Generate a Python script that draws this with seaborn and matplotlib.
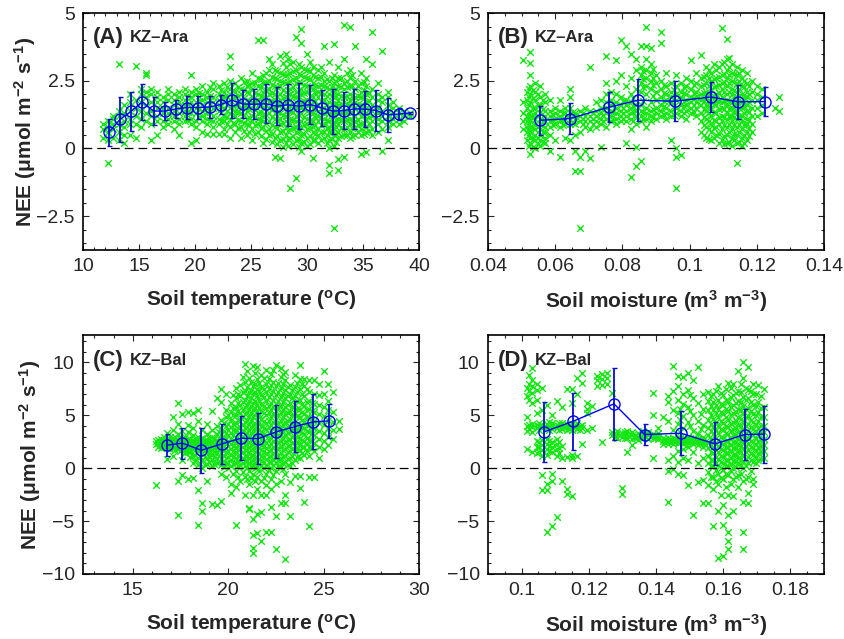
import numpy as np
import pandas as pd
import matplotlib
matplotlib.use('Agg')
import matplotlib.pyplot as plt
from matplotlib.ticker import MultipleLocator, FuncFormatter
import seaborn as sns

# ---- binned means (blue line) ----
a_bin_x = [12.3, 13.3, 14.3, 15.3, 16.3, 17.3, 18.3, 19.3, 20.3, 21.3, 22.3, 23.3, 24.3, 25.3,
           26.3, 27.3, 28.3, 29.3, 30.3, 31.3, 32.3, 33.3, 34.2, 35.2, 36.2, 37.2, 38.2, 39.2]
a_bin_y = [0.59, 1.07, 1.37, 1.72, 1.38, 1.38, 1.46, 1.51, 1.51, 1.53, 1.62, 1.78, 1.64, 1.63,
           1.65, 1.56, 1.61, 1.56, 1.62, 1.50, 1.38, 1.40, 1.46, 1.45, 1.40, 1.24, 1.27, 1.31]
a_bin_sd = [0.51, 0.82, 0.71, 0.67, 0.51, 0.33, 0.32, 0.43, 0.44, 0.40, 0.36, 0.64, 0.51, 0.56,
            0.72, 0.71, 0.78, 0.84, 0.71, 0.67, 0.83, 0.68, 0.75, 0.66, 0.75, 0.63, 0.23, 0.04]

b_bin_x = [0.0556, 0.0643, 0.0759, 0.0846, 0.0957, 0.1063, 0.1145, 0.1223]
b_bin_y = [1.04, 1.10, 1.52, 1.78, 1.74, 1.90, 1.72, 1.73]
b_bin_sd = [0.53, 0.58, 0.55, 0.78, 0.74, 0.55, 0.62, 0.53]

c_bin_x = [16.78, 17.60, 18.60, 19.67, 20.67, 21.59, 22.52, 23.50, 24.45, 25.31]
c_bin_y = [2.18, 2.37, 1.70, 2.30, 2.84, 2.81, 3.44, 3.94, 4.38, 4.48]
c_bin_sd = [1.06, 1.47, 2.13, 1.90, 2.10, 2.40, 2.50, 2.40, 2.60, 1.60]

d_bin_x = [0.1067, 0.1154, 0.1275, 0.1366, 0.1475, 0.1576, 0.1664, 0.1722]
d_bin_y = [3.44, 4.45, 6.09, 3.19, 3.31, 2.30, 3.19, 3.22]
d_bin_sd = [2.81, 2.71, 3.39, 1.03, 2.08, 2.03, 2.38, 2.68]

# ---- half-hourly NEE clouds (green x), read column by column: x -> list of y ----
a_cloud = {
    11.8: [0.4, 0.7, 0.9],
    12.2: [-0.55, 0.3, 0.6, 0.8, 1.0],
    12.7: [0.4, 0.7, 0.9, 1.1, 1.2],
    13.2: [0.3, 0.6, 0.9, 1.2, 1.4, 3.1],
    13.7: [0.2, 0.5, 0.8, 1.0, 1.3, 1.6],
    14.2: [0.5, 0.9, 1.1, 1.4, 1.7, 2.0],
    14.7: [0.4, 0.9, 1.2, 1.5, 1.8, 3.05],
    15.2: [0.8, 1.1, 1.4, 1.7, 2.0, 2.2],
    15.6: [1.0, 1.3, 1.6, 1.9, 2.1, 2.7, 2.8],
    16.1: [0.3, 0.9, 1.2, 1.4, 1.7, 2.0, 2.2],
    16.6: [0.5, 1.0, 1.2, 1.5, 1.7, 1.9, 2.1],
    17.1: [0.8, 1.0, 1.3, 1.5, 1.7, 1.9],
    17.6: [0.9, 1.1, 1.3, 1.5, 1.8, 2.0, 2.2],
    18.1: [0.7, 1.0, 1.2, 1.4, 1.6, 1.8, 2.0],
    18.6: [0.5, 0.9, 1.1, 1.3, 1.5, 1.7, 1.9, 2.1],
    19.1: [1.0, 1.2, 1.4, 1.6, 1.8, 2.0, 2.2],
    19.35: [1.05, 1.35, 1.65, 1.95],
    19.6: [0.2, 0.9, 1.1, 1.3, 1.5, 1.7, 1.9, 2.1, 2.7],
    20.1: [0.3, 0.8, 1.0, 1.3, 1.5, 1.7, 2.0, 2.2],
    20.35: [1.15, 1.45, 1.75, 2.05],
    20.6: [0.6, 1.0, 1.2, 1.4, 1.6, 1.8, 2.0, 2.3],
    21.1: [0.55, 0.9, 1.1, 1.3, 1.5, 1.7, 1.9, 2.1],
    21.35: [1.05, 1.35, 1.65, 1.95, 2.25],
    21.6: [0.55, 0.8, 1.0, 1.2, 1.5, 1.7, 1.9, 2.2, 2.4],
    22.1: [0.55, 0.9, 1.1, 1.4, 1.6, 1.8, 2.0, 2.3],
    22.35: [1.0, 1.3, 1.55, 1.85, 2.15],
    22.6: [0.55, 0.7, 1.0, 1.2, 1.5, 1.7, 1.9, 2.1, 2.4],
    22.85: [0.9, 1.15, 1.4, 1.65, 1.95, 2.25],
    23.1: [0.4, 0.8, 1.1, 1.3, 1.5, 1.8, 2.0, 2.2, 2.5, 3.0, 3.4],
    23.35: [0.95, 1.25, 1.55, 1.85, 2.15],
    23.6: [0.6, 0.9, 1.2, 1.4, 1.6, 1.9, 2.1, 2.4],
    23.85: [0.75, 1.05, 1.35, 1.65, 1.95, 2.25],
    24.1: [0.4, 0.8, 1.0, 1.3, 1.5, 1.7, 2.0, 2.2, 2.6],
    24.35: [0.65, 0.95, 1.25, 1.55, 1.85, 2.15, 2.45],
    24.6: [0.5, 0.9, 1.1, 1.4, 1.6, 1.8, 2.1, 2.3, 2.5],
    24.85: [0.6, 0.85, 1.15, 1.45, 1.75, 2.05, 2.35],
    25.1: [0.3, 0.7, 1.0, 1.2, 1.5, 1.7, 1.9, 2.2, 2.4, 2.8],
    25.35: [0.55, 0.85, 1.15, 1.45, 1.75, 2.05, 2.4],
    25.6: [0.6, 0.9, 1.1, 1.3, 1.6, 1.8, 2.0, 2.3, 2.6, 4.0],
    25.85: [0.45, 0.75, 1.05, 1.35, 1.65, 1.95, 2.25, 2.55],
    26.1: [0.2, 0.8, 1.0, 1.2, 1.5, 1.7, 1.9, 2.1, 2.4, 2.7, 4.0],
    26.35: [0.35, 0.65, 0.95, 1.25, 1.55, 1.85, 2.15, 2.45, 2.8],
    26.6: [0.5, 0.7, 1.0, 1.3, 1.5, 1.7, 2.0, 2.2, 2.5, 2.9, 3.3],
    26.85: [0.25, 0.55, 0.85, 1.15, 1.45, 1.75, 2.05, 2.35, 2.65, 3.1],
    27.1: [-0.3, 0.4, 0.8, 1.1, 1.3, 1.5, 1.8, 2.0, 2.3, 2.6, 2.9],
    27.35: [0.15, 0.45, 0.75, 1.05, 1.35, 1.65, 1.95, 2.25, 2.55, 2.85],
    27.6: [-0.35, 0.3, 0.6, 0.9, 1.1, 1.3, 1.6, 1.8, 2.0, 2.3, 2.5, 2.8, 3.4],
    27.85: [0.05, 0.35, 0.65, 0.95, 1.25, 1.55, 1.85, 2.15, 2.45, 2.75, 3.15],
    28.1: [0.2, 0.5, 0.8, 1.0, 1.2, 1.4, 1.7, 1.9, 2.1, 2.4, 2.7, 3.0, 3.5],
    28.3: [0.1, 0.35, 0.65, 0.95, 1.25, 1.55, 1.85, 2.15, 2.45, 2.75, 3.3],
    28.5: [-1.45, 0.4, 0.7, 0.9, 1.1, 1.4, 1.6, 1.8, 2.0, 2.2, 2.5, 2.8, 3.1],
    28.75: [0.15, 0.45, 0.75, 1.05, 1.35, 1.65, 1.95, 2.25, 2.55, 2.85, 3.2],
    29.0: [-1.1, 0.3, 0.6, 0.8, 1.0, 1.2, 1.5, 1.7, 1.9, 2.1, 2.4, 2.6, 2.9, 4.1],
    29.25: [0.05, 0.35, 0.65, 0.95, 1.25, 1.55, 1.85, 2.15, 2.45, 2.75, 3.1],
    29.5: [-0.1, 0.2, 0.5, 0.8, 1.0, 1.3, 1.5, 1.7, 2.0, 2.2, 2.4, 2.7, 3.0, 3.9, 4.4],
    29.75: [0.25, 0.55, 0.85, 1.15, 1.45, 1.75, 2.05, 2.35, 2.65, 2.95],
    30.0: [0.1, 0.4, 0.7, 0.9, 1.1, 1.4, 1.6, 1.8, 2.1, 2.3, 2.6, 2.9, 3.5],
    30.25: [0.15, 0.45, 0.75, 1.05, 1.35, 1.65, 1.95, 2.25, 2.55, 2.85, 3.2],
    30.5: [-0.35, 0.3, 0.6, 0.8, 1.0, 1.3, 1.5, 1.7, 1.9, 2.2, 2.4, 2.7, 3.0],
    30.75: [0.3, 0.55, 0.85, 1.15, 1.45, 1.75, 2.05, 2.35, 2.65],
    31.0: [0.2, 0.5, 0.7, 1.0, 1.2, 1.4, 1.6, 1.9, 2.1, 2.3, 2.6, 2.9],
    31.25: [0.3, 0.6, 0.85, 1.15, 1.45, 1.75, 2.05, 2.35, 2.65, 3.0],
    31.5: [0.4, 0.6, 0.9, 1.1, 1.3, 1.5, 1.8, 2.0, 2.3, 2.5, 2.8, 3.8],
    31.75: [0.2, 0.5, 0.75, 1.05, 1.35, 1.65, 1.95, 2.25, 2.55],
    32.0: [-0.9, -0.6, 0.0, 0.3, 0.6, 0.8, 1.0, 1.3, 1.5, 1.7, 2.0, 2.2, 2.5, 3.2],
    32.2: [0.35, 0.6, 0.85, 1.1, 1.35, 1.65, 1.95, 2.25, 2.6],
    32.4: [-2.95, 0.1, 0.5, 0.7, 0.9, 1.2, 1.4, 1.6, 1.9, 2.1, 2.4, 2.7, 3.85],
    32.6: [0.25, 0.55, 0.8, 1.05, 1.35, 1.65, 1.95, 2.2, 2.5],
    32.8: [-0.8, -0.4, 0.4, 0.6, 0.9, 1.1, 1.3, 1.6, 1.8, 2.0, 2.3, 2.6, 3.0],
    33.05: [0.45, 0.75, 1.05, 1.35, 1.65, 1.95, 2.25, 2.6],
    33.3: [-0.3, 0.5, 0.7, 1.0, 1.2, 1.4, 1.7, 1.9, 2.2, 2.4, 3.3, 4.55],
    33.55: [0.5, 0.8, 1.05, 1.35, 1.65, 1.95, 2.25, 2.5, 2.8],
    33.8: [0.4, 0.6, 0.9, 1.1, 1.3, 1.6, 1.8, 2.0, 2.3, 2.6, 2.9, 4.5],
    34.05: [0.45, 0.75, 1.05, 1.35, 1.65, 1.95, 2.3, 2.7],
    34.3: [0.5, 0.8, 1.0, 1.2, 1.5, 1.7, 1.9, 2.2, 2.5, 3.8],
    34.55: [0.6, 0.85, 1.05, 1.35, 1.65, 1.95, 2.3],
    34.8: [-0.2, 0.5, 0.7, 0.9, 1.2, 1.4, 1.6, 1.9, 2.1, 2.4, 2.8],
    35.05: [0.55, 0.95, 1.25, 1.55, 1.85, 2.15, 2.45],
    35.3: [-0.15, 0.6, 0.8, 1.1, 1.3, 1.5, 1.7, 2.0, 2.3, 2.6, 3.3],
    35.55: [0.65, 0.9, 1.15, 1.45, 1.75, 2.05],
    35.8: [0.5, 0.7, 1.0, 1.2, 1.4, 1.6, 1.9, 2.2, 3.1, 4.3],
    36.3: [0.6, 0.9, 1.1, 1.3, 1.5, 1.8, 2.0, 2.4],
    36.7: [-0.1, 0.7, 1.0, 1.2, 1.4, 1.7, 1.9, 3.6],
    37.2: [0.3, 0.8, 1.0, 1.2, 1.4, 1.6, 1.9, 2.1],
    37.7: [0.9, 1.1, 1.3, 1.5, 1.7],
    38.2: [0.9, 1.1, 1.3, 1.5],
    38.7: [1.0, 1.2, 1.4],
    39.2: [1.2, 1.3],
}

b_cloud = {
    0.0505: [0.7, 1.0, 1.3, 1.7, 3.25],
    0.0515: [0.3, 0.6, 0.8, 1.0, 1.2, 1.5, 1.8, 2.1],
    0.05225: [0.1, 0.5, 0.9, 1.3, 1.6, 1.9, 2.2],
    0.0525: [-0.2, 0.2, 0.4, 0.6, 0.8, 1.0, 1.2, 1.4, 1.7, 2.0, 2.3, 2.7, 3.15, 3.55],
    0.05325: [0.05, 0.35, 0.75, 1.15, 1.5, 1.85, 2.15],
    0.054: [0.0, 0.3, 0.5, 0.7, 0.9, 1.1, 1.3, 1.5, 1.8, 2.1, 2.4],
    0.05475: [0.15, 0.4, 0.8, 1.2, 1.6, 2.0],
    0.0555: [0.1, 0.3, 0.5, 0.7, 0.9, 1.1, 1.3, 1.6, 1.9, 2.3],
    0.05625: [0.25, 0.6, 1.0, 1.45, 1.8],
    0.057: [0.2, 0.4, 0.6, 0.8, 1.0, 1.2, 1.4, 1.7, 2.0],
    0.0585: [-0.1, 0.5, 0.8, 1.0, 1.2, 1.4, 1.8],
    0.05925: [0.85, 1.05, 1.25],
    0.060: [0.3, 0.9, 1.1, 1.3, 1.5],
    0.0615: [-0.3, 0.8, 1.0, 1.2, 1.4, 1.8],
    0.06225: [0.85, 1.05, 1.3],
    0.063: [0.4, 0.9, 1.1, 1.3, 1.5],
    0.0645: [0.3, 0.9, 1.1, 1.3, 1.5, 1.9, 2.2],
    0.06525: [0.95, 1.15, 1.35],
    0.066: [-0.85, -0.1, 0.5, 0.9, 1.1, 1.3],
    0.0675: [-2.95, -0.85, -0.3, 0.6, 1.0, 1.2, 1.4],
    0.06825: [0.9, 1.1, 1.3],
    0.069: [-0.1, 0.8, 1.0, 1.2, 1.5],
    0.0705: [-0.35, 0.7, 1.0, 1.2, 1.4, 3.0],
    0.07125: [0.9, 1.1, 1.3],
    0.072: [0.8, 1.0, 1.2, 1.4, 1.7],
    0.0735: [0.05, 0.9, 1.1, 1.3, 1.5, 1.8],
    0.07425: [1.0, 1.25, 1.45],
    0.075: [0.8, 1.1, 1.3, 1.5, 1.7, 2.0, 2.4, 3.4],
    0.0765: [1.0, 1.2, 1.4, 1.6, 1.8, 2.1],
    0.07725: [1.05, 1.35, 1.65],
    0.078: [0.9, 1.1, 1.3, 1.5, 1.7, 2.0, 2.5, 3.25],
    0.0795: [1.0, 1.2, 1.4, 1.6, 1.9, 2.7, 4.0],
    0.08025: [1.1, 1.3, 1.5, 1.75],
    0.081: [0.2, 1.0, 1.2, 1.4, 1.6, 1.8, 2.3, 3.8],
    0.0825: [-1.05, 0.7, 1.1, 1.3, 1.5, 1.7, 2.0, 2.6, 3.5],
    0.08325: [1.0, 1.35, 1.55, 1.85],
    0.084: [-0.65, 0.05, 0.9, 1.2, 1.4, 1.6, 2.2, 2.9, 3.3],
    0.0855: [-0.45, 1.0, 1.2, 1.4, 1.6, 2.1, 2.4, 2.7, 3.0, 3.8],
    0.08625: [1.1, 1.35, 1.75, 2.25, 2.55, 2.85],
    0.087: [0.8, 1.1, 1.3, 1.5, 2.0, 2.3, 2.6, 2.9, 3.3, 3.8, 4.5],
    0.0885: [1.0, 1.2, 1.4, 1.7, 2.2, 2.5, 2.8, 3.1, 3.7],
    0.08925: [1.15, 1.45, 1.95, 2.35, 2.6, 2.95],
    0.090: [1.1, 1.3, 1.5, 1.8, 2.1, 2.4, 2.7],
    0.0915: [1.2, 1.4, 1.6, 1.9, 2.2, 2.5, 3.9, 4.3],
    0.09225: [1.25, 1.55, 1.75, 2.05, 2.35],
    0.093: [1.1, 1.3, 1.5, 1.8, 2.0, 2.3, 2.8],
    0.0945: [0.3, 1.2, 1.4, 1.7, 1.9, 2.1, 2.4],
    0.09525: [1.25, 1.55, 1.85, 2.15],
    0.096: [-1.45, -0.3, 0.0, 1.3, 1.5, 1.8, 2.0, 2.3, 2.7],
    0.0975: [-0.25, 1.2, 1.4, 1.6, 1.9, 2.1, 2.4],
    0.09825: [1.3, 1.55, 1.75, 2.05, 2.25],
    0.099: [1.1, 1.4, 1.6, 1.8, 2.0, 2.3, 2.6],
    0.1005: [1.3, 1.5, 1.7, 1.9, 2.2, 2.5, 3.25],
    0.10125: [1.35, 1.6, 1.85, 2.05, 2.35],
    0.102: [1.2, 1.5, 1.7, 1.9, 2.1, 2.4, 2.8],
    0.1035: [0.6, 1.0, 1.3, 1.6, 1.8, 2.0, 2.3, 2.6, 3.45],
    0.10425: [0.5, 0.85, 1.15, 1.45, 1.75, 2.05, 2.35, 2.65],
    0.105: [0.4, 0.8, 1.1, 1.4, 1.6, 1.9, 2.1, 2.4, 2.7, 3.0],
    0.10575: [0.35, 0.7, 1.0, 1.3, 1.55, 1.8, 2.0, 2.3, 2.6, 2.9],
    0.1065: [0.3, 0.6, 0.9, 1.2, 1.5, 1.7, 1.9, 2.2, 2.5, 2.8],
    0.10725: [0.4, 0.75, 1.05, 1.35, 1.65, 1.95, 2.25, 2.55, 3.1],
    0.108: [0.5, 0.8, 1.0, 1.3, 1.6, 1.8, 2.0, 2.3, 2.6, 2.9],
    0.10875: [0.2, 0.55, 0.9, 1.15, 1.45, 1.75, 2.05, 2.35, 2.65, 3.0],
    0.1095: [0.3, 0.7, 1.0, 1.2, 1.5, 1.7, 1.9, 2.2, 2.4, 2.7, 3.1, 4.45],
    0.11025: [0.15, 0.45, 0.85, 1.15, 1.45, 1.75, 2.1, 2.45, 2.75, 3.2],
    0.111: [0.2, 0.5, 0.8, 1.1, 1.3, 1.6, 1.8, 2.0, 2.3, 2.6, 2.9, 3.3, 4.05],
    0.11175: [0.25, 0.6, 0.9, 1.2, 1.45, 1.75, 2.1, 2.4, 2.7, 3.0, 3.35],
    0.1125: [0.1, 0.4, 0.7, 1.0, 1.2, 1.5, 1.7, 2.0, 2.2, 2.5, 2.8, 3.1],
    0.11325: [0.3, 0.55, 0.85, 1.15, 1.35, 1.65, 1.85, 2.15, 2.45, 2.75],
    0.114: [-0.55, 0.2, 0.5, 0.8, 1.1, 1.4, 1.6, 1.9, 2.1, 2.4, 2.7, 3.0],
    0.11475: [0.25, 0.6, 0.9, 1.2, 1.5, 1.8, 2.2, 2.5, 2.8],
    0.1155: [0.1, 0.4, 0.7, 1.0, 1.2, 1.5, 1.7, 2.0, 2.3, 2.6, 2.9],
    0.11625: [0.2, 0.5, 0.85, 1.3, 1.55, 1.85, 2.25, 2.5],
    0.117: [0.3, 0.6, 0.9, 1.1, 1.4, 1.6, 1.9, 2.1, 2.4, 2.8],
    0.11775: [0.45, 0.75, 1.05, 1.35, 1.7, 2.0, 2.3],
    0.1185: [0.6, 0.9, 1.2, 1.5, 1.8, 2.1, 2.5],
    0.120: [1.2, 1.5, 1.8, 2.0, 2.3],
    0.1215: [1.3, 1.6, 1.9, 2.2],
    0.1255: [1.5],
    0.1265: [1.4, 1.9],
}

c_cloud = {
    16.2: [-1.6, 2.3, 2.6],
    16.35: [2.0, 2.4, 2.7],
    16.5: [1.9, 2.2, 2.5, 2.8],
    16.65: [2.0, 2.35, 2.65, 3.0],
    16.8: [0.9, 1.9, 2.2, 2.5, 2.8, 3.3],
    16.95: [1.8, 2.1, 2.4, 2.7, 3.0],
    17.1: [1.2, 1.9, 2.3, 2.6, 2.9, 3.6, 4.8],
    17.22: [1.7, 2.0, 2.35, 2.65, 3.0],
    17.35: [-4.4, -1.2, 1.8, 2.1, 2.4, 2.7, 3.2, 4.2, 6.2],
    17.47: [1.6, 2.0, 2.3, 2.6, 2.9],
    17.6: [-0.6, 0.8, 1.9, 2.2, 2.5, 2.8, 3.5, 5.1],
    17.75: [1.4, 1.75, 2.05, 2.35, 2.65, 3.0],
    17.9: [-1.0, 1.5, 1.9, 2.2, 2.5, 2.8, 3.4, 4.1, 5.3],
    18.02: [1.1, 1.5, 1.85, 2.15, 2.45, 2.8],
    18.15: [-0.9, 0.5, 1.2, 1.8, 2.1, 2.4, 2.7, 3.1, 3.8, 5.2],
    18.27: [0.8, 1.3, 1.75, 2.15, 2.45, 2.8],
    18.4: [-5.4, -2.1, 0.3, 1.0, 1.6, 2.0, 2.3, 2.6, 3.0, 4.5, 5.5],
    18.52: [0.5, 1.2, 1.8, 2.15, 2.45, 2.8],
    18.65: [-4.0, -3.3, 0.0, 0.8, 1.4, 1.8, 2.2, 2.5, 2.9, 3.6],
    18.77: [0.3, 1.1, 1.6, 2.0, 2.35, 2.7],
    18.9: [-1.2, 0.4, 1.0, 1.5, 1.9, 2.3, 2.7, 3.2, 4.2],
    19.02: [0.6, 1.2, 1.7, 2.1, 2.5, 2.9],
    19.15: [-3.4, 0.2, 0.8, 1.3, 1.7, 2.1, 2.5, 3.0, 3.6, 5.4],
    19.27: [0.4, 1.1, 1.5, 1.9, 2.3, 2.8],
    19.4: [-3.5, 0.5, 1.0, 1.5, 1.9, 2.3, 2.7, 3.2, 4.0, 6.6],
    19.52: [0.6, 1.2, 1.7, 2.1, 2.5, 2.9, 3.4],
    19.65: [-3.1, -0.5, 0.3, 0.9, 1.4, 1.8, 2.2, 2.6, 3.1, 3.8, 4.6, 6.3, 7.5],
    19.77: [0.1, 0.7, 1.2, 1.7, 2.1, 2.5, 3.0, 3.5, 4.3],
    19.9: [-0.8, 0.5, 1.0, 1.5, 1.9, 2.3, 2.8, 3.3, 4.0, 4.8, 5.5, 7.0],
    20.02: [0.0, 0.5, 1.1, 1.6, 2.1, 2.6, 3.1, 3.6, 4.2, 5.0],
    20.15: [-2.3, -1.5, 0.2, 0.8, 1.3, 1.8, 2.3, 2.8, 3.3, 3.9, 4.6, 5.3, 6.2],
    20.27: [-0.5, 0.4, 1.1, 1.6, 2.1, 2.6, 3.1, 3.6, 4.2, 5.0, 5.7, 6.9],
    20.4: [-5.4, -1.8, -0.3, 0.5, 1.0, 1.5, 2.0, 2.5, 3.0, 3.6, 4.3, 5.0, 5.8, 6.6, 7.6],
    20.52: [-0.8, 0.2, 0.7, 1.2, 1.7, 2.2, 2.7, 3.2, 3.8, 4.6, 5.4, 6.2, 7.0],
    20.65: [-1.2, 0.3, 0.8, 1.3, 1.8, 2.3, 2.8, 3.3, 3.9, 4.5, 5.2, 6.0, 6.8, 7.9],
    20.77: [-0.4, 0.5, 1.0, 1.5, 2.0, 2.5, 3.0, 3.5, 4.1, 4.8, 5.5, 6.3, 7.2, 8.6],
    20.9: [-2.5, -0.8, 0.2, 0.7, 1.2, 1.7, 2.2, 2.7, 3.2, 3.8, 4.4, 5.1, 5.8, 6.5, 7.3, 8.2, 9.9],
    21.0: [-1.0, 0.1, 0.7, 1.2, 1.7, 2.2, 2.7, 3.3, 3.9, 4.6, 5.3, 6.0, 6.8, 7.7, 9.2],
    21.1: [-3.9, -3.8, -1.5, -0.3, 0.5, 1.0, 1.5, 2.0, 2.5, 3.0, 3.6, 4.2, 4.9, 5.6, 6.4, 7.2, 8.5],
    21.2: [-0.9, 0.2, 0.7, 1.2, 1.7, 2.2, 2.7, 3.3, 3.9, 4.5, 5.2, 5.9, 6.6, 7.4, 8.2],
    21.3: [-8.0, -7.5, -6.3, -4.8, -2.5, -0.5, 0.3, 0.8, 1.3, 1.8, 2.3, 2.9, 3.5, 4.1, 4.8, 5.5,
           6.2, 7.0, 7.8, 9.7],
    21.4: [-1.2, 0.0, 0.5, 1.0, 1.5, 2.0, 2.5, 3.1, 3.7, 4.3, 5.0, 5.7, 6.4, 7.2, 8.0, 9.0],
    21.5: [-6.1, -4.3, -2.0, -0.8, 0.1, 0.6, 1.1, 1.6, 2.1, 2.7, 3.3, 3.9, 4.6, 5.3, 6.0, 6.8,
           7.5, 8.4, 9.6],
    21.62: [-0.3, 0.4, 0.9, 1.4, 1.9, 2.4, 3.0, 3.6, 4.3, 5.0, 5.7, 6.5, 7.3, 8.1],
    21.75: [-6.9, -4.1, -2.5, -1.2, 0.2, 0.7, 1.2, 1.7, 2.2, 2.8, 3.4, 4.0, 4.7, 5.4, 6.1, 6.9,
            7.7, 8.8],
    21.87: [-0.9, 0.0, 0.6, 1.1, 1.6, 2.1, 2.6, 3.2, 3.8, 4.5, 5.2, 5.9, 6.7, 7.5, 8.5],
    22.0: [-6.0, -2.5, -1.6, -0.5, 0.3, 0.9, 1.4, 1.9, 2.5, 3.1, 3.7, 4.3, 5.0, 5.7, 6.4, 7.2,
           8.0, 9.3],
    22.12: [-0.2, 0.6, 1.1, 1.6, 2.1, 2.7, 3.3, 3.9, 4.5, 5.2, 5.9, 6.7, 7.5, 8.4],
    22.25: [-6.0, -3.7, -2.0, -1.0, 0.0, 0.6, 1.2, 1.7, 2.3, 2.9, 3.5, 4.1, 4.8, 5.5, 6.2, 7.0,
            7.9, 8.9],
    22.37: [-0.6, 0.3, 0.9, 1.4, 2.0, 2.6, 3.2, 3.8, 4.4, 5.1, 5.8, 6.5, 7.3, 8.2, 9.3],
    22.5: [-7.6, -4.5, -1.5, -0.3, 0.5, 1.0, 1.6, 2.2, 2.8, 3.4, 4.0, 4.7, 5.4, 6.1, 6.9, 7.8, 9.8],
    22.62: [0.2, 0.8, 1.3, 1.9, 2.5, 3.1, 3.7, 4.3, 5.0, 5.7, 6.4, 7.2, 8.1],
    22.75: [-3.3, -1.2, 0.1, 0.8, 1.4, 2.0, 2.6, 3.2, 3.8, 4.5, 5.2, 5.9, 6.7, 7.6, 8.6, 9.5],
    22.87: [-0.1, 0.5, 1.1, 1.7, 2.3, 2.9, 3.5, 4.1, 4.8, 5.5, 6.3, 7.1, 8.0, 8.9],
    23.0: [-8.6, -3.3, -2.5, -0.5, 0.6, 1.2, 1.8, 2.5, 3.1, 3.7, 4.4, 5.1, 5.8, 6.6, 7.4, 8.3, 9.1],
    23.12: [0.3, 0.9, 1.5, 2.1, 2.7, 3.3, 3.9, 4.5, 5.2, 6.0, 6.8, 7.7],
    23.25: [-4.5, -1.3, 0.2, 1.0, 1.6, 2.2, 2.8, 3.4, 4.0, 4.7, 5.4, 6.2, 7.0, 7.9],
    23.37: [0.5, 1.2, 1.8, 2.4, 3.0, 3.6, 4.3, 5.0, 5.8, 6.6, 7.4],
    23.5: [-0.7, 0.8, 1.5, 2.1, 2.7, 3.3, 3.9, 4.5, 5.2, 6.0, 6.8, 7.7, 8.8],
    23.62: [1.1, 1.8, 2.4, 3.0, 3.6, 4.2, 4.9, 5.6, 6.4, 7.2, 8.1],
    23.75: [-1.9, -0.7, 1.0, 1.7, 2.3, 2.9, 3.5, 4.1, 4.8, 5.6, 6.5, 7.5, 8.4, 9.8],
    23.87: [1.4, 2.0, 2.7, 3.3, 3.9, 4.6, 5.3, 6.1, 7.0, 8.0],
    24.0: [-3.2, 1.3, 2.0, 2.6, 3.2, 3.8, 4.4, 5.1, 5.9, 6.8, 7.8, 8.4],
    24.12: [1.6, 2.3, 2.9, 3.5, 4.1, 4.8, 5.5, 6.3, 7.5],
    24.25: [-5.5, -0.8, 1.2, 2.0, 2.7, 3.4, 4.1, 4.8, 5.6, 6.4, 7.2, 8.3],
    24.37: [1.9, 2.6, 3.2, 3.9, 4.6, 5.4, 6.2],
    24.5: [-0.8, 1.6, 2.4, 3.1, 3.8, 4.5, 5.3, 6.1, 7.0, 8.3],
    24.75: [1.0, 2.0, 2.8, 3.5, 4.3, 5.1, 6.0, 6.9, 8.0],
    25.0: [1.8, 2.6, 3.3, 4.1, 4.9, 5.8, 7.0, 9.2],
    25.25: [2.2, 3.0, 3.8, 4.6, 5.5, 6.4, 8.0],
    25.5: [2.8, 3.6, 4.4, 5.3, 7.2],
    25.8: [3.7, 4.5],
}

d_cloud = {
    0.1015: [1.8, 3.5, 4.0, 4.8, 6.8, 7.6],
    0.10225: [3.7, 4.05, 6.5, 7.3, 8.0, 8.8],
    0.103: [1.5, 3.4, 3.9, 4.2, 6.2, 7.1, 7.8, 8.3, 9.5],
    0.1045: [1.4, 2.0, 2.6, 3.8, 4.1, 5.2, 6.5, 7.4, 8.0],
    0.10525: [1.5, 2.0, 2.5, 3.65, 3.95, 4.3],
    0.106: [-2.1, -0.6, 1.2, 1.7, 2.2, 2.7, 3.8, 4.1, 5.5, 7.6],
    0.1075: [-6.0, -2.1, -1.5, 1.3, 1.8, 2.3, 2.8, 3.9, 4.2, 6.0],
    0.10825: [1.6, 2.1, 2.6, 3.6, 4.0, 4.35],
    0.109: [-5.5, -1.2, -0.5, 1.5, 2.0, 2.5, 3.7, 4.0, 4.3, 5.0],
    0.1105: [-4.6, 1.2, 1.8, 2.3, 2.8, 3.8, 4.1, 6.4],
    0.11125: [1.4, 1.9, 2.5, 3.65, 3.95, 4.25],
    0.112: [-1.2, 1.0, 2.1, 3.7, 4.0, 4.3, 5.8],
    0.1135: [-2.4, -2.0, 1.1, 3.6, 3.9, 4.2, 7.5],
    0.11425: [3.7, 4.05],
    0.115: [-2.6, 1.0, 1.3, 3.6, 3.9, 4.2, 6.2, 7.5],
    0.1165: [1.2, 3.7, 4.0, 4.3, 7.0, 8.5],
    0.11725: [3.6, 3.95],
    0.118: [2.3, 3.8, 4.1, 8.1, 9.0],
    0.1195: [3.6, 5.2, 5.6, 6.2],
    0.121: [3.8, 5.9],
    0.1225: [7.8, 8.3, 8.7],
    0.124: [2.5, 7.9, 8.4, 8.9],
    0.1255: [8.0, 8.5, 9.0],
    0.127: [3.1, 3.4, 7.1],
    0.12775: [2.95, 3.25],
    0.1285: [2.9, 3.2, 3.5],
    0.130: [-2.4, -1.9, 3.0, 3.3],
    0.13075: [2.9, 3.2, 3.45],
    0.1315: [1.5, 2.9, 3.2, 3.5],
    0.133: [2.2, 2.8, 3.1, 3.4],
    0.13375: [2.85, 3.15],
    0.1345: [2.7, 3.0, 3.3],
    0.136: [2.9, 3.2, 3.5],
    0.13675: [3.0, 3.3],
    0.1375: [2.8, 3.1, 3.4],
    0.139: [1.0, 2.9, 3.2, 5.0, 7.1],
    0.13975: [2.85, 3.15],
    0.1405: [2.8, 3.0, 3.3, 3.8],
    0.142: [2.3, 2.6, 2.9, 4.8],
    0.14275: [2.45, 2.75],
    0.1435: [-3.2, -0.3, 0.8, 2.3, 2.6, 2.9, 4.5, 6.3, 6.8],
    0.14425: [2.45, 2.75],
    0.145: [-0.1, 1.2, 2.3, 2.6, 2.9, 3.6, 5.5, 7.3, 9.7],
    0.14575: [2.45, 2.75],
    0.1465: [-0.5, 0.6, 1.6, 2.4, 2.7, 3.0, 4.2, 5.2, 6.5, 7.8, 8.7],
    0.14725: [2.5, 2.8, 3.4, 4.6, 5.6],
    0.148: [-0.6, 1.0, 1.8, 2.3, 2.6, 2.9, 3.8, 4.9, 6.1, 7.0, 8.6],
    0.14875: [2.45, 2.75],
    0.1495: [-1.6, 0.8, 2.0, 2.4, 2.7, 3.0, 4.4, 5.8, 7.4, 9.0],
    0.15025: [2.55, 2.85, 4.0, 5.4, 6.9],
    0.151: [-4.4, 1.5, 2.3, 2.6, 2.9, 3.5, 5.0, 6.6, 8.3],
    0.15175: [2.45, 2.75],
    0.1525: [-1.3, 0.5, 2.2, 2.5, 2.8, 3.2, 4.5, 6.2, 9.6],
    0.15325: [2.35, 2.65, 3.7, 5.1],
    0.154: [-3.3, -1.1, 1.0, 2.0, 2.4, 2.7, 3.0, 4.1, 5.6, 7.0],
    0.15475: [2.2, 2.55],
    0.1555: [-3.3, -1.6, -0.4, 0.5, 1.2, 1.9, 2.5, 3.1, 3.8, 4.6, 5.5, 6.4, 7.2],
    0.15625: [-0.8, 0.2, 0.8, 1.5, 2.2, 2.8, 3.5, 4.2, 5.0, 5.9, 6.8],
    0.157: [-5.5, -2.0, -0.8, 0.2, 0.8, 1.4, 2.0, 2.6, 3.2, 3.9, 4.7, 5.5, 6.3, 7.0],
    0.15775: [-1.2, -0.2, 0.5, 1.1, 1.7, 2.3, 2.9, 3.6, 4.4, 5.2, 6.0, 7.3],
    0.1585: [-8.5, -4.0, -1.5, -0.5, 0.3, 0.9, 1.5, 2.1, 2.7, 3.3, 4.0, 4.8, 5.6, 6.5, 7.8],
    0.15925: [-2.5, -0.9, 0.0, 0.6, 1.2, 1.8, 2.4, 3.0, 3.7, 4.5, 5.3, 6.1, 7.1],
    0.160: [-8.3, -5.4, -3.5, -1.0, -0.2, 0.5, 1.1, 1.7, 2.3, 2.9, 3.6, 4.3, 5.1, 6.0, 6.9],
    0.16075: [-1.8, -0.5, 0.2, 0.8, 1.4, 2.0, 2.6, 3.3, 4.0, 4.8, 5.6, 6.5, 7.5],
    0.1615: [-7.6, -6.9, -6.0, -4.4, -2.5, -0.6, 0.2, 0.8, 1.4, 2.0, 2.6, 3.2, 3.9, 4.6, 5.4,
             6.3, 8.1],
    0.16225: [-1.5, -0.3, 0.4, 1.0, 1.6, 2.2, 2.8, 3.5, 4.2, 5.0, 5.8, 6.7, 7.6],
    0.163: [-4.0, -2.6, -1.0, 0.0, 0.7, 1.3, 1.9, 2.5, 3.1, 3.7, 4.4, 5.2, 6.0, 6.9, 8.0],
    0.16375: [-0.8, 0.1, 0.7, 1.3, 1.9, 2.5, 3.1, 3.8, 4.5, 5.3, 6.2, 7.1],
    0.1645: [-1.8, -0.6, 0.4, 1.0, 1.6, 2.2, 2.8, 3.4, 4.1, 4.8, 5.6, 6.4, 7.3, 9.2],
    0.16525: [-0.5, 0.3, 0.9, 1.5, 2.1, 2.7, 3.3, 4.0, 4.7, 5.5, 6.3, 7.2, 8.0],
    0.166: [-7.6, -6.0, -3.2, -1.2, 0.0, 0.7, 1.3, 1.9, 2.5, 3.1, 3.7, 4.4, 5.1, 5.9, 6.7, 8.5,
            10.0],
    0.16675: [-1.0, 0.2, 0.9, 1.5, 2.1, 2.7, 3.3, 4.0, 4.8, 5.6, 6.5, 7.6],
    0.1675: [-3.3, -2.3, -0.8, 0.5, 1.1, 1.7, 2.3, 2.9, 3.5, 4.2, 4.9, 5.7, 6.6, 7.4, 9.6],
    0.16825: [-0.3, 0.8, 1.4, 2.0, 2.6, 3.2, 3.9, 4.6, 5.4, 6.3, 7.3],
    0.169: [-1.5, -1.0, 0.6, 1.3, 1.9, 2.5, 3.1, 3.7, 4.4, 5.1, 6.0, 7.0, 8.0],
    0.16975: [0.5, 1.1, 1.7, 2.3, 2.9, 3.5, 4.2, 5.0, 5.9, 7.0],
    0.1705: [0.8, 1.4, 2.0, 2.6, 3.2, 3.8, 4.5, 5.3, 6.3, 7.9],
    0.17125: [0.9, 1.5, 2.1, 2.7, 3.3, 4.0, 4.8, 5.7, 6.8],
    0.172: [1.0, 1.6, 2.2, 2.8, 3.4, 4.0, 4.8, 5.8, 7.5],
}

panel_tags = ['(A)', '(B)', '(C)', '(D)']
site_names = ['KZ\u2013Ara', 'KZ\u2013Ara', 'KZ\u2013Bal', 'KZ\u2013Bal']
temp_label = r'Soil temperature ($^{\rm o}$C)'
moist_label = r'Soil moisture (m$^{3}$ m$^{-3}$)'
nee_label = r'NEE ($\mu$mol m$^{-2}$ s$^{-1}$)'


def cloud_frame(cols):
    rows = [(x, y) for x, ys in cols.items() for y in ys]
    return pd.DataFrame(rows, columns=['x', 'y'])


sns.set_style('ticks')
plt.rcParams['font.family'] = ['Liberation Sans', 'DejaVu Sans']
plt.rcParams['mathtext.fontset'] = 'custom'
plt.rcParams['mathtext.rm'] = 'Liberation Sans:bold'
plt.rcParams['mathtext.it'] = 'Liberation Sans:bold'
plt.rcParams['mathtext.bf'] = 'Liberation Sans:bold'
plt.rcParams['mathtext.default'] = 'rm'

fig = plt.figure(figsize=(8.45, 6.39), dpi=100)
W, H = 845.0, 639.0
boxes = [(83, 13, 336, 237), (488, 13, 336, 237), (83, 335, 336, 239), (488, 335, 336, 239)]

panels = [
    (a_cloud, a_bin_x, a_bin_y, a_bin_sd, (10, 40), (-3.75, 5), 5, 1, 2.5, 0.5, temp_label),
    (b_cloud, b_bin_x, b_bin_y, b_bin_sd, (0.04, 0.14), (-3.75, 5), 0.02, 0.005, 2.5, 0.5, moist_label),
    (c_cloud, c_bin_x, c_bin_y, c_bin_sd, (12.4, 30), (-10, 12.6), 5, 1, 5, 1, temp_label),
    (d_cloud, d_bin_x, d_bin_y, d_bin_sd, (0.09, 0.19), (-10, 12.6), 0.02, 0.005, 5, 1, moist_label),
]

fmt = FuncFormatter(lambda v, p: ('%g' % round(v, 6)).replace('-', '\u2212'))

for i, (cl, bx, by, bsd, xl, yl, xmaj, xmin, ymaj, ymin, xlab) in enumerate(panels):
    l, t, w, h = boxes[i]
    ax = fig.add_axes([l / W, 1 - (t + h) / H, w / W, h / H])
    df = cloud_frame(cl)
    sns.scatterplot(data=df, x='x', y='y', ax=ax, marker='x', color='#14e614',
                    s=22, linewidth=1.0, legend=False, zorder=2)
    ax.axhline(0, color='black', lw=0.9, ls=(0, (7, 4)), zorder=3)
    ax.errorbar(bx, by, yerr=bsd, fmt='-o', color='#0000ff', lw=1.0, ms=8,
                mfc='none', mec='#0000ff', mew=1.0, ecolor='#0a0ad0', elinewidth=1.3,
                capsize=1.8, capthick=1.3, zorder=4)
    ax.set_xlim(*xl)
    ax.set_ylim(*yl)
    ax.xaxis.set_major_locator(MultipleLocator(xmaj))
    ax.xaxis.set_minor_locator(MultipleLocator(xmin))
    ax.yaxis.set_major_locator(MultipleLocator(ymaj))
    ax.yaxis.set_minor_locator(MultipleLocator(ymin))
    ax.xaxis.set_major_formatter(fmt)
    ax.yaxis.set_major_formatter(fmt)
    ax.tick_params(which='both', direction='in', top=True, right=True, width=0.8,
                   labelsize=14, pad=6)
    ax.tick_params(which='major', length=4)
    ax.tick_params(which='minor', length=2)
    for sp in ax.spines.values():
        sp.set_linewidth(1.2)
        sp.set_color('black')
    ax.set_xlabel(xlab, fontsize=15, fontweight='bold', labelpad=9)
    if i in (0, 2):
        ax.set_ylabel(nee_label, fontsize=15, fontweight='bold', labelpad=-1)
    else:
        ax.set_ylabel('')
    ax.text(0.03, 0.895, panel_tags[i], transform=ax.transAxes, fontsize=16,
            fontweight='bold', va='center', ha='left', zorder=5)
    ax.text(0.14, 0.895, site_names[i], transform=ax.transAxes, fontsize=12,
            fontweight='bold', va='center', ha='left', zorder=5)

fig.savefig('out.png', dpi=100)
